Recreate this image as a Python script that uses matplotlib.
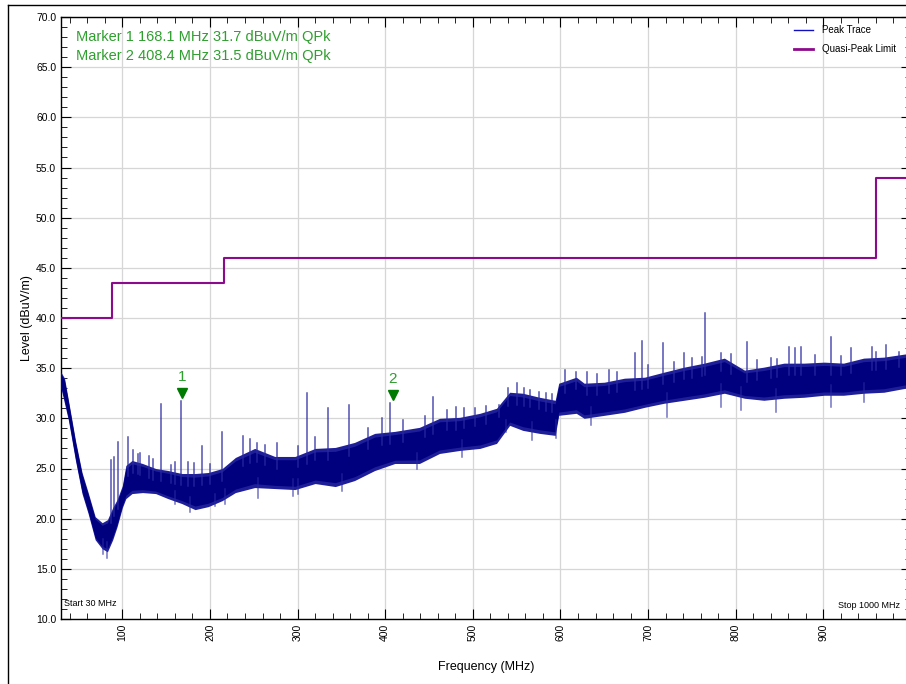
import matplotlib
matplotlib.use("Agg")
import matplotlib.pyplot as plt
import numpy as np
from matplotlib.lines import Line2D
from matplotlib.ticker import MultipleLocator, FormatStrFormatter

plt.rcParams['font.family'] = ['Liberation Sans', 'DejaVu Sans']

# peak trace (lower / upper envelope)
env_freq = [30, 34, 38.5, 46.5, 54, 61, 69, 77, 83, 89, 94, 100, 104, 111, 123, 138,
            152, 168, 183, 198, 214, 229, 251, 274, 297, 320, 343, 365, 388, 411,
            439, 462, 485, 508, 527, 542, 557, 576, 594, 598, 618, 627, 650, 673,
            696, 718, 741, 764, 787, 810, 832, 855, 878, 901, 923, 946, 969, 1000]
env_low = [33.0, 31.5, 29.8, 25.8, 22.5, 20.5, 17.9, 17.0, 16.7, 17.9, 19.2, 21.1, 22.0,
           22.5, 22.6, 22.5, 22.0, 21.5, 20.9, 21.2, 21.8, 22.6, 23.1, 23.0, 22.9, 23.5,
           23.2, 23.8, 24.8, 25.5, 25.5, 26.5, 26.8, 27.0, 27.5, 29.3, 28.8, 28.5, 28.3,
           30.3, 30.5, 30.0, 30.3, 30.6, 31.1, 31.5, 31.8, 32.1, 32.5, 32.0, 31.8, 32.0,
           32.1, 32.3, 32.3, 32.5, 32.6, 33.1]
env_high = [34.6, 34.0, 31.8, 27.8, 24.6, 22.6, 20.2, 19.6, 19.9, 21.1, 21.9, 23.3, 25.3,
            25.8, 25.5, 25.0, 24.8, 24.5, 24.5, 24.6, 25.0, 26.1, 27.0, 26.2, 26.2, 27.0,
            27.1, 27.6, 28.5, 28.7, 29.1, 30.0, 30.1, 30.5, 31.0, 32.6, 32.5, 32.1, 31.8,
            33.5, 34.1, 33.5, 33.6, 34.0, 34.1, 34.6, 35.1, 35.5, 36.0, 34.8, 35.1, 35.5,
            35.5, 35.6, 35.5, 36.0, 36.1, 36.5]

# single spikes / hairs above the band
spike_freq = [87.5, 91, 95, 106, 112, 118, 120, 130, 135, 144.5, 155, 160, 167.5, 175, 182,
              191, 200, 214, 238, 246, 254, 263, 277, 300, 311, 320, 335, 358.5, 380, 396,
              406, 420, 445, 454, 470, 481, 490, 502, 515, 530, 540, 550, 558, 565, 575,
              584, 590, 605, 618, 630, 642, 655, 665, 685, 693, 700, 717, 730, 741, 750,
              762, 765, 783, 795, 813, 824, 840, 847, 861, 868, 874, 890, 909, 920, 931,
              955, 960, 972, 986, 995]
spike_level = [25.8, 26.1, 27.6, 28.1, 26.8, 26.4, 26.5, 26.2, 25.9, 31.4, 25.3, 25.6, 31.7,
               25.6, 25.5, 27.2, 25.4, 28.6, 28.2, 27.9, 27.5, 27.3, 27.5, 27.2, 32.5, 28.1,
               31.0, 31.3, 29.0, 30.0, 31.5, 29.8, 30.2, 32.1, 30.8, 31.1, 31.0, 31.0, 31.2,
               31.3, 33.0, 33.5, 33.0, 32.8, 32.6, 32.5, 32.4, 34.8, 34.6, 34.6, 34.4, 34.8,
               34.6, 36.5, 37.7, 35.3, 37.5, 35.6, 36.5, 36.0, 36.1, 40.5, 36.5, 36.4, 37.6,
               35.8, 36.0, 35.9, 37.1, 37.0, 37.1, 36.3, 38.1, 36.2, 37.0, 37.1, 36.6, 37.3,
               36.6, 37.0]

# dips below the band
dip_freq = [78, 83, 160, 177, 206, 217, 255, 295, 300, 351, 436, 488, 538, 568, 595,
            635, 722, 783, 806, 846, 909, 946]
dip_level = [16.5, 16.1, 21.5, 20.7, 21.3, 21.5, 22.1, 22.3, 22.5, 22.8, 25.0, 26.1, 28.6,
             27.8, 28.0, 29.3, 30.1, 31.1, 30.8, 30.6, 31.1, 31.6]

# quasi-peak limit (steps)
limit_freq = [30, 88, 88, 216, 216, 960, 960, 1000]
limit_level = [40.0, 40.0, 43.5, 43.5, 46.0, 46.0, 54.0, 54.0]

marker_freq = [168.1, 408.4]
marker_level = [31.7, 31.5]
marker_names = ['1', '2']

navy = '#00007f'
hair = '#2828a0'
green_txt = '#2f9f2f'

fig = plt.figure(figsize=(9.06, 6.84), dpi=100)
ax = fig.add_axes([61 / 906, 65 / 684, 850 / 906, 602 / 684])

lo = np.array(env_low)
hi = np.array(env_high)
# slightly lighter outer edge, dark core like the dense trace
ax.fill_between(env_freq, lo, hi, color='#1e1e98', lw=0, zorder=3)
ax.fill_between(env_freq, lo + 0.1 * (hi - lo), hi - 0.1 * (hi - lo),
                color=navy, lw=0, zorder=3)
for f, lv in zip(spike_freq, spike_level):
    base = np.interp(f, env_freq, env_high) - 1.2
    ax.plot([f, f], [base, lv], color=hair, lw=1.1, alpha=0.8, zorder=3)
for f, lv in zip(dip_freq, dip_level):
    top = np.interp(f, env_freq, env_low) + 1.0
    ax.plot([f, f], [lv, top], color=hair, lw=1.1, alpha=0.65, zorder=3)

ax.plot(limit_freq, limit_level, color='#8c0a8c', lw=1.5, zorder=4)

peak_handle = Line2D([], [], color='#1010c0', lw=1)
limit_handle = Line2D([], [], color='#8c0a8c', lw=2)
ax.legend([peak_handle, limit_handle], ['Peak Trace', 'Quasi-Peak Limit'],
          loc='upper left', bbox_to_anchor=(0.852, 1.001), frameon=False,
          fontsize=7, handlelength=2.0, labelspacing=0.95, handletextpad=0.9)

for f, lv, name in zip(marker_freq, marker_level, marker_names):
    ax.plot(f, lv + 0.8, marker='v', color='#007a00', ms=7, zorder=5)
    ax.text(f, lv + 1.7, name, color=green_txt, ha='center', va='bottom', fontsize=11)

ax.text(0.018, 0.979, 'Marker 1 168.1 MHz 31.7 dBuV/m QPk\nMarker 2 408.4 MHz 31.5 dBuV/m QPk',
        transform=ax.transAxes, color=green_txt, fontsize=10.5, va='top', linespacing=1.45)

ax.text(0.004, 0.018, 'Start 30 MHz', transform=ax.transAxes, fontsize=6.5, va='bottom')
ax.text(988, 10.9, 'Stop 1000 MHz', fontsize=6.5, ha='right', va='bottom')

ax.set_xlim(30, 1000)
ax.set_ylim(10, 70)
ax.xaxis.set_major_locator(MultipleLocator(100))
ax.xaxis.set_minor_locator(MultipleLocator(20))
ax.yaxis.set_major_locator(MultipleLocator(5))
ax.yaxis.set_minor_locator(MultipleLocator(1))
ax.yaxis.set_major_formatter(FormatStrFormatter('%.1f'))
ax.tick_params(which='both', direction='in', top=True, right=True, labelsize=7.5)
ax.tick_params(which='major', length=7)
ax.tick_params(which='minor', length=4)
ax.tick_params(axis='x', labelrotation=90)
ax.grid(True, which='major', color='#d6d6d6', lw=0.9)
ax.set_axisbelow(True)
for s in ax.spines.values():
    s.set_linewidth(1.0)

ax.set_xlabel('Frequency (MHz)', fontsize=9, labelpad=10)
ax.set_ylabel('Level (dBuV/m)', fontsize=9, labelpad=2)

# outer window frame
fig.add_artist(Line2D([8 / 906, 8 / 906], [0, 1 - 5 / 684], color='black', lw=1))
fig.add_artist(Line2D([8 / 906, 1], [1 - 5 / 684, 1 - 5 / 684], color='black', lw=1))

fig.savefig('out.png', dpi=100)
